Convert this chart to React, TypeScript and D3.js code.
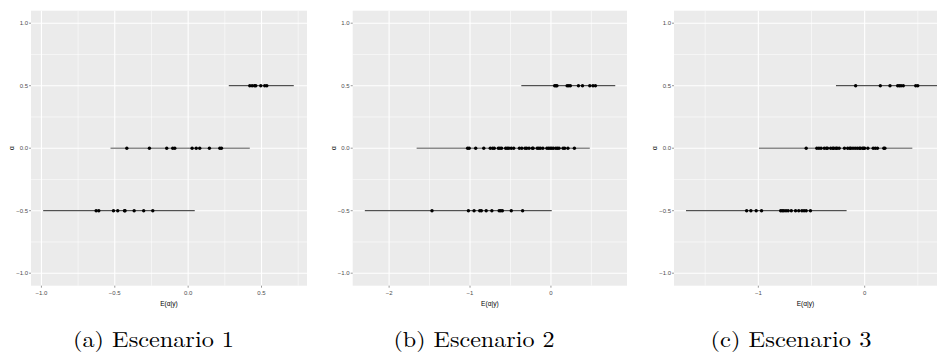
import React from "react";
import * as d3 from "d3";

// ---------- data ----------
const alphaLevels = [-0.5, 0, 0.5];
const yTicks = [-1.0, -0.5, 0.0, 0.5, 1.0];
const yMinor = [-0.75, -0.25, 0.25, 0.75];
const captions = ["(a) Escenario 1", "(b) Escenario 2", "(c) Escenario 3"];

// Escenario 1
const s1Neg = [-0.627, -0.609, -0.509, -0.48, -0.434, -0.43, -0.368, -0.303, -0.241];
const s1Zero = [-0.418, -0.264, -0.146, -0.105, -0.091, 0.027, 0.055, 0.079, 0.145, 0.216, 0.227];
const s1Pos = [0.42, 0.436, 0.452, 0.461, 0.495, 0.522, 0.536];
const s1Intervals = [[-0.988, 0.045], [-0.529, 0.42], [0.277, 0.72]];
const s1XTicks = [-1.0, -0.5, 0.0, 0.5];
const s1XMinor = [-0.75, -0.25, 0.25, 0.75];

// Escenario 2
const s2Neg = [-1.47, -1.02, -0.95, -0.88, -0.86, -0.8, -0.73, -0.64, -0.62, -0.6, -0.49, -0.35];
const s2Zero = [
  -1.03, -1.01, -0.93, -0.83, -0.75, -0.72, -0.7, -0.65, -0.63, -0.61, -0.56, -0.54, -0.52,
  -0.49, -0.46, -0.39, -0.36, -0.32, -0.3, -0.27, -0.23, -0.22, -0.17, -0.15, -0.13, -0.1,
  -0.05, -0.03, -0.01, 0.01, 0.03, 0.06, 0.08, 0.1, 0.15, 0.17, 0.21, 0.29,
];
const s2Pos = [0.046, 0.062, 0.074, 0.2, 0.22, 0.24, 0.34, 0.39, 0.48, 0.52, 0.55];
const s2Intervals = [[-2.3, 0.01], [-1.66, 0.48], [-0.366, 0.795]];
const s2XTicks = [-2, -1, 0];
const s2XMinor = [-1.5, -0.5, 0.5];

// Escenario 3
const s3Neg = [-1.11, -1.07, -1.02, -0.97, -0.79, -0.775, -0.76, -0.74, -0.72, -0.69, -0.65, -0.62, -0.59, -0.57, -0.55, -0.51];
const s3Zero = [
  -0.55, -0.45, -0.43, -0.41, -0.38, -0.36, -0.35, -0.32, -0.3, -0.29, -0.27, -0.26, -0.24,
  -0.19, -0.16, -0.14, -0.13, -0.11, -0.09, -0.07, -0.05, -0.04, -0.02, -0.01, 0.0, 0.03,
  0.08, 0.1, 0.12, 0.18, 0.19,
];
const s3Pos = [-0.085, 0.147, 0.238, 0.31, 0.326, 0.342, 0.363, 0.48, 0.499];
const s3Intervals = [[-1.68, -0.17], [-0.994, 0.448], [-0.27, 0.68]];
const s3XTicks = [-1, 0];
const s3XMinor = [-1.5, -0.5, 0.5];

// ---------- layout ----------
const W = 937;
const H = 353;
const panelTop = 10.7;
const panelBottom = 285.7;

const panels = [
  { left: 31, right: 307, domain: [-1.071, 0.81], points: [s1Neg, s1Zero, s1Pos], intervals: s1Intervals, xTicks: s1XTicks, xMinor: s1XMinor, fmt: d3.format(".1f"), caption: captions[0], capX: 153.5 },
  { left: 352.7, right: 627, domain: [-2.45, 0.94], points: [s2Neg, s2Zero, s2Pos], intervals: s2Intervals, xTicks: s2XTicks, xMinor: s2XMinor, fmt: d3.format("d"), caption: captions[1], capX: 474 },
  { left: 674, right: 937, domain: [-1.793, 0.68], points: [s3Neg, s3Zero, s3Pos], intervals: s3Intervals, xTicks: s3XTicks, xMinor: s3XMinor, fmt: d3.format("d"), caption: captions[2], capX: 791 },
];

const sans = "'Liberation Sans', Arial, sans-serif";
const serif = "'Latin Modern Roman', 'Liberation Serif', 'DejaVu Serif', serif";

function Panel({ p }: { p: any }) {
  const x = d3.scaleLinear().domain(p.domain).range([p.left, p.right]);
  const y = d3.scaleLinear().domain([-1.1, 1.1]).range([panelBottom, panelTop]);
  const fmtY = d3.format(".1f");
  const cx = (p.left + p.right) / 2;
  const cy = (panelTop + panelBottom) / 2;
  return (
    <g>
      <rect x={p.left} y={panelTop} width={p.right - p.left} height={panelBottom - panelTop} fill="#EBEBEB" />
      {yMinor.map((v) => (
        <line key={"ym" + v} x1={p.left} x2={p.right} y1={y(v)} y2={y(v)} stroke="#fff" strokeWidth={0.55} />
      ))}
      {p.xMinor.map((v: number) => (
        <line key={"xm" + v} x1={x(v)} x2={x(v)} y1={panelTop} y2={panelBottom} stroke="#fff" strokeWidth={0.55} />
      ))}
      {yTicks.map((v) => (
        <line key={"yM" + v} x1={p.left} x2={p.right} y1={y(v)} y2={y(v)} stroke="#fff" strokeWidth={1.1} />
      ))}
      {p.xTicks.map((v: number) => (
        <line key={"xM" + v} x1={x(v)} x2={x(v)} y1={panelTop} y2={panelBottom} stroke="#fff" strokeWidth={1.1} />
      ))}
      {/* intervals */}
      {alphaLevels.map((a, i) => (
        <line
          key={"iv" + i}
          x1={x(p.intervals[i][0])}
          x2={x(p.intervals[i][1])}
          y1={y(a)}
          y2={y(a)}
          stroke={a === 0 ? "#8a8a8a" : "#2b2b2b"}
          strokeWidth={a === 0 ? 1.6 : 1.0}
        />
      ))}
      {/* points */}
      {alphaLevels.map((a, i) =>
        p.points[i].map((v: number, j: number) => (
          <circle key={"pt" + i + "-" + j} cx={x(v)} cy={y(a)} r={1.7} fill="#000" />
        ))
      )}
      {/* y axis ticks & labels */}
      {yTicks.map((v) => (
        <g key={"yt" + v}>
          <line x1={p.left - 2} x2={p.left} y1={y(v)} y2={y(v)} stroke="#333" strokeWidth={0.5} />
          <text x={p.left - 3} y={y(v)} dy="0.35em" textAnchor="end" fontSize={6} fill="#4D4D4D" fontFamily={sans}>
            {fmtY(v)}
          </text>
        </g>
      ))}
      {/* x axis ticks & labels */}
      {p.xTicks.map((v: number) => (
        <g key={"xt" + v}>
          <line x1={x(v)} x2={x(v)} y1={panelBottom} y2={panelBottom + 2} stroke="#333" strokeWidth={0.5} />
          <text x={x(v)} y={292.7} dy="0.35em" textAnchor="middle" fontSize={6} fill="#4D4D4D" fontFamily={sans}>
            {p.fmt(v)}
          </text>
        </g>
      ))}
      {/* axis titles */}
      <text x={cx} y={303.3} dy="0.35em" textAnchor="middle" fontSize={6.6} fill="#000" fontFamily={sans}>
        E(α|y)
      </text>
      <text
        transform={`translate(${p.left - 19},${cy}) rotate(-90)`}
        textAnchor="middle"
        dy="0.35em"
        fontSize={6.6}
        fill="#000"
        fontFamily={sans}
      >
        α
      </text>
      {/* caption */}
      <text x={p.capX} y={346.5} textAnchor="middle" fontSize={21.5} fill="#000" fontFamily={serif} textLength={161} lengthAdjust="spacingAndGlyphs">
        {p.caption}
      </text>
    </g>
  );
}

export default function App() {
  return (
    <svg width={W} height={H} viewBox={`0 0 ${W} ${H}`} style={{ position: "absolute", left: 0, top: 0, display: "block", background: "#fff" }}>
      <rect x={0} y={0} width={W} height={H} fill="#fff" />
      {panels.map((p, i) => (
        <Panel key={i} p={p} />
      ))}
    </svg>
  );
}
